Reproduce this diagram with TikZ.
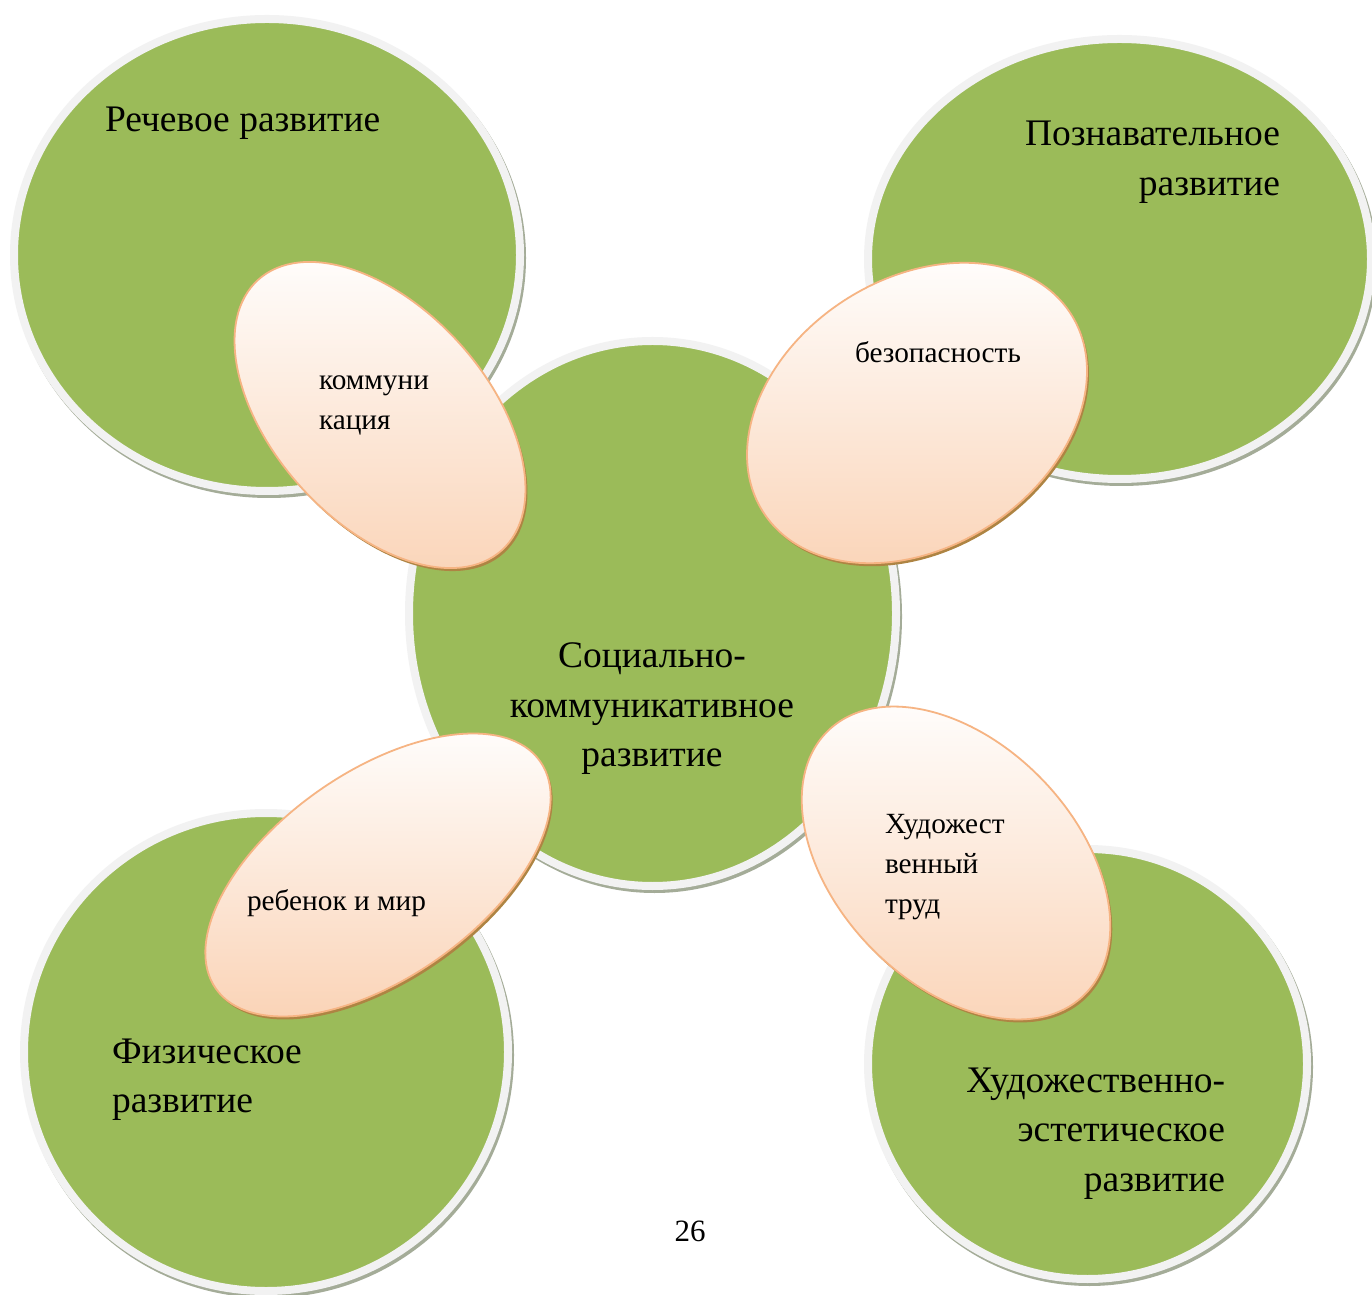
\documentclass[tikz,border=0pt]{standalone}
\usepackage{fontspec}
\setmainfont{Liberation Serif}
\usetikzlibrary{shapes.geometric}
\definecolor{leaf}{HTML}{9BBB59}
\definecolor{ringgray}{HTML}{F2F2F2}
\definecolor{ringshadow}{HTML}{A4AC98}
\definecolor{petalline}{HTML}{F6B483}
\definecolor{petalbottom}{HTML}{FAD3B6}
\definecolor{petalshadow}{HTML}{AE8443}
\newcommand\bstrut{\rule{0pt}{30pt}}
\newcommand\sstrut{\rule{0pt}{24pt}}
% name, x, y, rx, ry
\newcommand\areaball[5]{%
  \node[ballshade, minimum width={2*#4+16}, minimum height={2*#5+16}] (#1s) at ({#2+2},{#3-3}) {};
  \node[areaball, minimum width={2*#4+8}, minimum height={2*#5+8}] (#1) at (#2,#3) {};
}
% name, x, y, a, b, rotation
\newcommand\petalnode[6]{%
  \node[petalshade, minimum width={2*#4}, minimum height={2*#5}, rotate=#6] (#1s) at ({#2+2},{#3-3}) {};
  \node[petal, minimum width={2*#4}, minimum height={2*#5}, rotate=#6] (#1) at (#2,#3) {};
}
\begin{document}
\begin{tikzpicture}[x=1pt,y=1pt,
  areaball/.style={ellipse, inner sep=0pt, outer sep=0pt, fill=leaf, draw=ringgray, line width=8pt},
  ballshade/.style={ellipse, inner sep=0pt, outer sep=0pt, fill=ringshadow},
  petal/.style={ellipse, inner sep=0pt, outer sep=0pt, draw=petalline, line width=1.8pt, top color=white, bottom color=petalbottom},
  petalshade/.style={ellipse, inner sep=0pt, outer sep=0pt, fill=petalshadow},
  bigtext/.style={inner sep=0pt, outer sep=0pt, font=\fontsize{37.5}{49.5}\selectfont},
  smalltext/.style={inner sep=0pt, outer sep=0pt, font=\fontsize{29.3}{40}\selectfont},
]
\useasboundingbox (0,0) rectangle (1372,1294);
\fill[white] (0,0) rectangle (1372,1294);

\areaball{tl}{267}{1039}{249}{232}
\areaball{tr}{1119.5}{1035}{247.5}{216}
\areaball{bl}{266}{242}{238}{235}
\areaball{br}{1087.5}{230}{215.5}{211}
\areaball{ctr}{652.5}{680.5}{239.5}{268.5}

\petalnode{pk}{380}{879}{182}{107}{-48}
\petalnode{pb}{917}{881}{183}{134}{33}
\petalnode{pr}{378}{419}{198}{103}{35}
\petalnode{ph}{956}{431}{184}{120}{-46}

\node[bigtext, anchor=north west] (lblTL) at (105,1192) {\bstrut Речевое развитие};
\node[bigtext, anchor=north east, align=right] (lblTR) at (1280,1178) {\bstrut Познавательное\\развитие};
\node[bigtext, anchor=north, align=center] (lblC) at (652,656) {\bstrut Социально-\\коммуникативное\\развитие};
\node[bigtext, anchor=north west, align=left] (lblBL) at (112,261) {\bstrut Физическое\\развитие};
\node[bigtext, anchor=north east, align=right] (lblBR) at (1225,232) {\bstrut Художественно-\\эстетическое\\развитие};

\node[smalltext, anchor=north west, align=left] (lblPK) at (319,928) {\sstrut коммуни\\кация};
\node[smalltext, anchor=north west] (lblPB) at (855,955) {\sstrut безопасность};
\node[smalltext, anchor=north west] (lblPR) at (247,408) {\sstrut ребенок и мир};
\node[smalltext, anchor=north west, align=left] (lblPH) at (885,485) {\sstrut Художест\\венный\\труд};

\node[inner sep=0pt, anchor=base, font=\fontsize{31}{36}\selectfont] (pagenum) at (690,53) {26};
\end{tikzpicture}
\end{document}
